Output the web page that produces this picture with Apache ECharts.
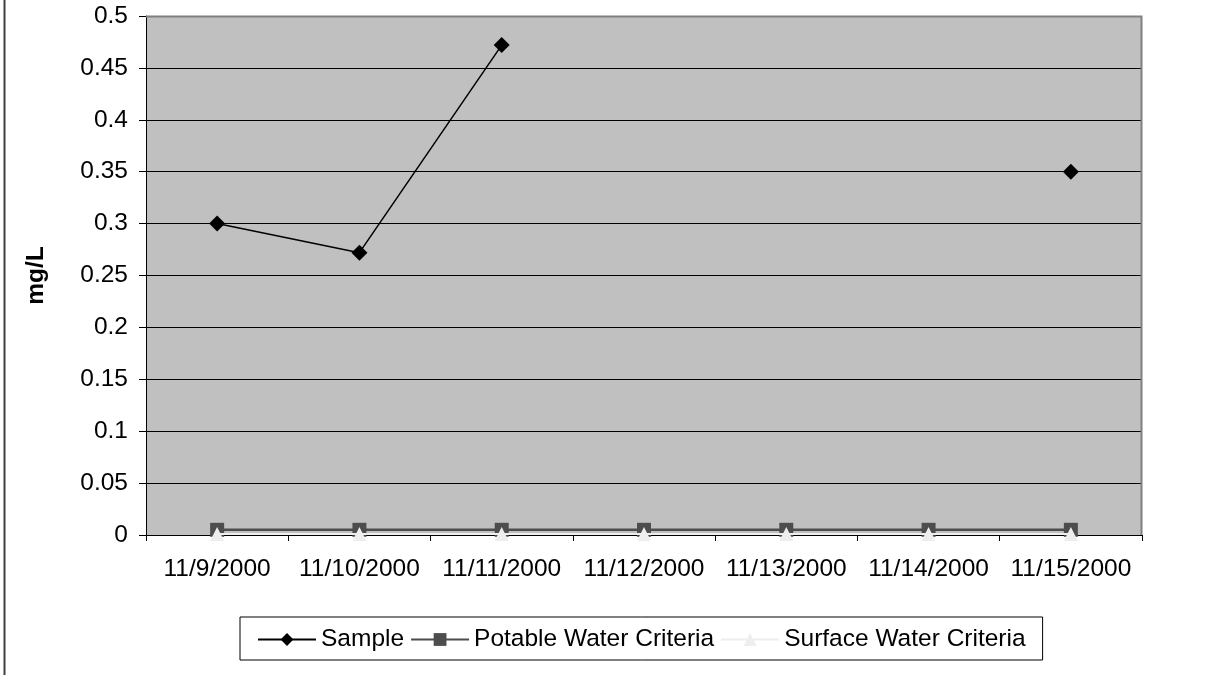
<!DOCTYPE html>
<html>
<head>
<meta charset="utf-8">
<script src="https://cdn.jsdelivr.net/npm/echarts@6/dist/echarts.min.js"></script>
<style>
  html, body { margin: 0; padding: 0; background: #ffffff; }
  #chart { width: 1225px; height: 675px; }
</style>
</head>
<body>
<div id="chart"></div>
<script>
// Sampling dates
const dates = ['11/9/2000', '11/10/2000', '11/11/2000', '11/12/2000', '11/13/2000', '11/14/2000', '11/15/2000'];

// Measured concentrations (mg/L); no sample on 11/12 - 11/14
const sampleValues = [0.3, 0.272, 0.472, null, null, null, 0.35];

// Regulatory criteria (mg/L)
const potableValues = [0.005, 0.005, 0.005, 0.005, 0.005, 0.005, 0.005];
const surfaceValues = [0.001, 0.001, 0.001, 0.001, 0.001, 0.001, 0.001];

// Y-axis scale
const yMin = 0, yMax = 0.5, yStep = 0.05;

const FONT = '"Liberation Sans", Arial, sans-serif';
const FONT_SIZE = 24.5;

const chart = echarts.init(document.getElementById('chart'), null, { renderer: 'canvas' });

chart.setOption({
  backgroundColor: '#ffffff',
  animation: false,
  grid: {
    left: 146, right: 83, top: 16, bottom: 140,
    show: true,
    backgroundColor: '#c0c0c0',
    borderColor: '#808080',
    borderWidth: 0
  },
  xAxis: {
    type: 'category',
    data: dates,
    boundaryGap: true,
    axisLine: { lineStyle: { color: '#000000', width: 1 } },
    axisTick: { show: true, length: 6, inside: false, lineStyle: { color: '#000000' } },
    axisLabel: { color: '#000000', fontFamily: FONT, fontSize: FONT_SIZE, margin: 22, interval: 0 },
    splitLine: { show: false }
  },
  yAxis: {
    type: 'value',
    min: yMin, max: yMax, interval: yStep,
    name: 'mg/L',
    nameLocation: 'middle',
    nameGap: 97,
    nameRotate: 90,
    nameTextStyle: { color: '#000000', fontFamily: FONT, fontSize: FONT_SIZE, fontWeight: 'bold' },
    axisLine: { show: true, lineStyle: { color: '#000000', width: 1 } },
    axisTick: { show: true, length: 7, lineStyle: { color: '#000000' } },
    axisLabel: { color: '#000000', fontFamily: FONT, fontSize: FONT_SIZE, margin: 18 },
    splitLine: { show: true, lineStyle: { color: '#000000', width: 1 } }
  },
  legend: {
    left: 240, top: 617,
    padding: [10, 17, 8, 17],
    borderColor: '#000000', borderWidth: 1,
    itemWidth: 58, itemHeight: 16, itemGap: 6,
    textStyle: { color: '#000000', fontFamily: FONT, fontSize: FONT_SIZE },
    data: ['Sample', 'Potable Water Criteria', 'Surface Water Criteria']
  },
  graphic: [
    {
      // frame on the plot's top and right edges
      type: 'polyline',
      shape: { points: [[146, 16.5], [1141.5, 16.5], [1141.5, 535]] },
      style: { stroke: '#808080', lineWidth: 2, fill: null },
      z: 5
    },
    {
      // outer chart frame, left side
      type: 'line',
      shape: { x1: 4.5, y1: 0, x2: 4.5, y2: 675 },
      style: { stroke: '#404040', lineWidth: 2 }
    }
  ],
  series: [
    {
      name: 'Sample',
      type: 'line',
      data: sampleValues,
      connectNulls: false,
      symbol: 'diamond',
      symbolSize: 16,
      showAllSymbol: true,
      itemStyle: { color: '#000000' },
      lineStyle: { color: '#000000', width: 1.5 },
      z: 4
    },
    {
      name: 'Potable Water Criteria',
      type: 'line',
      data: potableValues,
      symbol: 'rect',
      symbolSize: 14,
      showAllSymbol: true,
      itemStyle: { color: '#4d4d4d' },
      lineStyle: { color: '#4d4d4d', width: 2.5 },
      z: 2
    },
    {
      name: 'Surface Water Criteria',
      type: 'line',
      data: surfaceValues,
      symbol: 'triangle',
      symbolSize: 14,
      showAllSymbol: true,
      itemStyle: { color: '#eeeeee' },
      lineStyle: { color: '#eeeeee', width: 2 },
      z: 3
    }
  ]
});
</script>
</body>
</html>
